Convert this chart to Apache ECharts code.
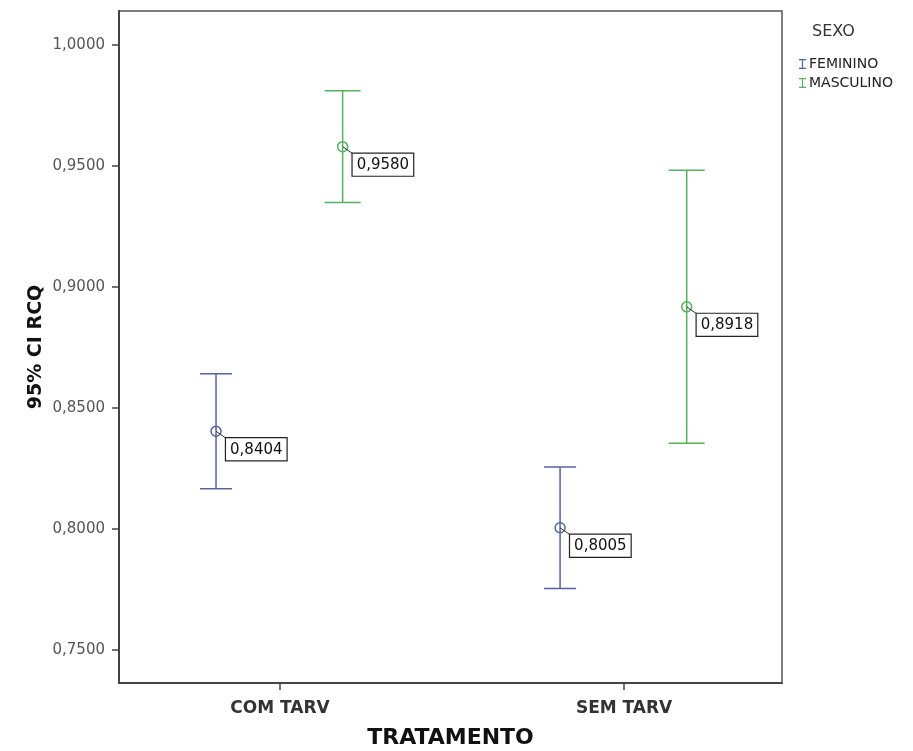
<!DOCTYPE html>
<html>
<head>
<meta charset="utf-8">
<script src="https://cdn.jsdelivr.net/npm/echarts@6/dist/echarts.min.js"></script>
<style>
  html, body { margin: 0; padding: 0; background: #fff; }
  #chart { width: 913px; height: 751px; }
</style>
</head>
<body>
<div id="chart"></div>
<script>
// Treatment groups along the x axis
const categories = ['COM TARV', 'SEM TARV'];

// 95% confidence intervals of RCQ, by sex
const femMean = [0.8404, 0.8005];
const femLow  = [0.8166, 0.7754];
const femHigh = [0.8642, 0.8256];

const mascMean = [0.9580, 0.8918];
const mascLow  = [0.9349, 0.8354];
const mascHigh = [0.9811, 0.9482];

// Y tick labels
const yTicks = [0.75, 0.80, 0.85, 0.90, 0.95, 1.00];

const FEM_COLOR = '#56629f';
const MASC_COLOR = '#55b25c';
const FONT = 'DejaVu Sans';

const fmt = v => v.toFixed(4).replace('.', ',');

function buildData(mean, low, high, offset) {
  return categories.map((c, i) => [i + 1 + offset, low[i], high[i], mean[i]]);
}

function renderErrorBar(color, capHalf) {
  return function (params, api) {
    const x = api.value(0);
    const top = api.coord([x, api.value(2)]);
    const bot = api.coord([x, api.value(1)]);
    const mid = api.coord([x, api.value(3)]);
    const lineStyle = { stroke: color, lineWidth: 1.5 };
    return {
      type: 'group',
      children: [
        { type: 'line', shape: { x1: top[0], y1: top[1], x2: bot[0], y2: bot[1] }, style: lineStyle },
        { type: 'line', shape: { x1: top[0] - capHalf, y1: top[1], x2: top[0] + capHalf, y2: top[1] }, style: lineStyle },
        { type: 'line', shape: { x1: bot[0] - capHalf, y1: bot[1], x2: bot[0] + capHalf, y2: bot[1] }, style: lineStyle },
        { type: 'circle', shape: { cx: mid[0], cy: mid[1], r: 5 }, style: { fill: 'rgba(255,255,255,0)', stroke: color, lineWidth: 1.5 } },
        { type: 'line', shape: { x1: mid[0], y1: mid[1], x2: mid[0] + 10, y2: mid[1] + 7 }, style: { stroke: '#333', lineWidth: 1 } },
        {
          type: 'text',
          x: mid[0] + 10,
          y: mid[1] + 7,
          style: {
            text: fmt(api.value(3)),
            font: '15px "' + FONT + '"',
            fill: '#111',
            backgroundColor: '#fff',
            borderColor: '#222',
            borderWidth: 1.2,
            padding: [4, 4, 3, 4],
            align: 'left',
            verticalAlign: 'top'
          }
        }
      ]
    };
  };
}

const legendIcon = 'path://M0,0h7v1.2h-2.9v7.6h2.9v1.2h-7v-1.2h2.9v-7.6h-2.9z';

const chart = echarts.init(document.getElementById('chart'), null, { renderer: 'canvas' });

chart.setOption({
  backgroundColor: '#fff',
  animation: false,
  grid: {
    left: 119, top: 11, right: 131, bottom: 68,
    outerBoundsMode: 'none',
    show: true, borderColor: '#555', borderWidth: 1.5, backgroundColor: 'transparent'
  },
  graphic: [
    {
      type: 'text', left: 812, top: 24,
      style: { text: 'SEXO', font: '16px "' + FONT + '"', fill: '#333' }
    }
  ],
  legend: {
    orient: 'vertical',
    left: 794,
    top: 52,
    itemWidth: 7,
    itemHeight: 10,
    itemGap: 5,
    icon: legendIcon,
    textStyle: { fontFamily: FONT, fontSize: 14, color: '#222', padding: [0, 0, 0, -2] },
    data: ['FEMININO', 'MASCULINO']
  },
  xAxis: {
    type: 'value',
    min: 0.532,
    max: 2.459,
    splitLine: { show: false },
    axisLine: { show: true, onZero: false, lineStyle: { color: '#444', width: 2 } },
    axisTick: { show: true, customValues: [1, 2], length: 7, lineStyle: { color: '#444', width: 1.5 } },
    axisLabel: {
      customValues: [1, 2],
      formatter: v => categories[Math.round(v) - 1],
      margin: 17,
      fontFamily: FONT, fontWeight: 'bold', fontSize: 17, color: '#333'
    },
    name: 'TRATAMENTO',
    nameLocation: 'middle',
    nameMoveOverlap: false,
    nameGap: 44,
    nameTextStyle: { fontFamily: FONT, fontWeight: 'bold', fontSize: 22, color: '#111' }
  },
  yAxis: {
    type: 'value',
    min: 0.73636,
    max: 1.01405,
    splitLine: { show: false },
    axisLine: { show: true, lineStyle: { color: '#444', width: 2 } },
    axisTick: { show: true, customValues: yTicks, length: 7, lineStyle: { color: '#444', width: 1.5 } },
    axisLabel: {
      customValues: yTicks,
      formatter: v => fmt(v),
      margin: 14,
      fontFamily: FONT, fontSize: 15, color: '#555'
    },
    name: '95% CI RCQ',
    nameLocation: 'middle',
    nameMoveOverlap: false,
    nameGap: 73,
    nameTextStyle: { fontFamily: FONT, fontWeight: 'bold', fontSize: 19, color: '#111' }
  },
  series: [
    {
      name: 'FEMININO',
      type: 'custom',
      itemStyle: { color: FEM_COLOR },
      renderItem: renderErrorBar(FEM_COLOR, 16),
      encode: { x: 0, y: [1, 2, 3] },
      data: buildData(femMean, femLow, femHigh, -0.186)
    },
    {
      name: 'MASCULINO',
      type: 'custom',
      itemStyle: { color: MASC_COLOR },
      renderItem: renderErrorBar(MASC_COLOR, 18),
      encode: { x: 0, y: [1, 2, 3] },
      data: buildData(mascMean, mascLow, mascHigh, 0.182)
    }
  ]
});
</script>
</body>
</html>
